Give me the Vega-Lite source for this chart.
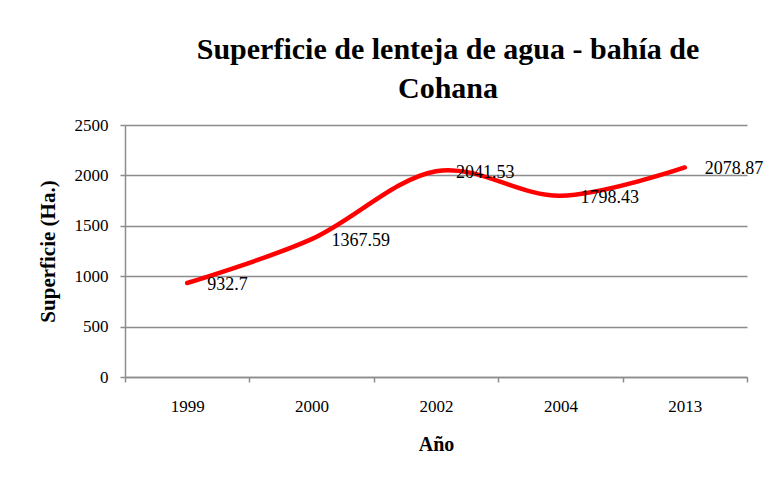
{
  "$schema": "https://vega.github.io/schema/vega-lite/v6.json",
  "width": 622,
  "height": 252,
  "autosize": {"type": "none"},
  "padding": {"left": 125, "top": 125, "right": 23, "bottom": 101},
  "background": "white",
  "title": {
    "text": ["Superficie de lenteja de agua - bahía de", "Cohana"],
    "font": "Liberation Serif",
    "fontSize": 30,
    "fontWeight": "bold",
    "lineHeight": 39,
    "anchor": "middle",
    "dx": 12,
    "offset": 12,
    "color": "black"
  },
  "data": {
    "values": [
      {"anio": "1999", "sup": 932.7},
      {"anio": "2000", "sup": 1367.59},
      {"anio": "2002", "sup": 2041.53},
      {"anio": "2004", "sup": 1798.43},
      {"anio": "2013", "sup": 2078.87}
    ]
  },
  "encoding": {
    "x": {
      "field": "anio",
      "type": "ordinal",
      "sort": null,
      "scale": {"type": "band", "paddingInner": 0, "paddingOuter": 0},
      "axis": {
        "title": "Año",
        "labelAngle": 0,
        "tickBand": "extent",
        "tickSize": 5,
        "labelPadding": 16,
        "titlePadding": 20,
        "grid": false
      }
    },
    "y": {
      "field": "sup",
      "type": "quantitative",
      "scale": {"domain": [0, 2500], "nice": false},
      "axis": {
        "title": "Superficie (Ha.)",
        "values": [0, 500, 1000, 1500, 2000, 2500],
        "format": "d",
        "tickSize": 5,
        "labelPadding": 12,
        "titlePadding": 16,
        "titleFontSize": 21,
        "grid": true
      }
    }
  },
  "layer": [
    {
      "mark": {"type": "line", "interpolate": "cardinal", "color": "#ff0000", "strokeWidth": 4.5, "strokeCap": "round"}
    },
    {
      "mark": {"type": "text", "align": "left", "baseline": "middle", "dx": 20, "dy": 2, "font": "Liberation Serif", "fontSize": 18, "color": "black"},
      "encoding": {
        "text": {"field": "sup", "type": "quantitative", "format": ".6~r"}
      }
    }
  ],
  "config": {
    "view": {"stroke": null},
    "axis": {
      "domainColor": "#8c8c8c",
      "domainWidth": 1.5,
      "tickColor": "#8c8c8c",
      "tickWidth": 1.5,
      "gridColor": "#8c8c8c",
      "gridWidth": 1.5,
      "labelFont": "Liberation Serif",
      "labelFontSize": 17,
      "labelColor": "black",
      "titleFont": "Liberation Serif",
      "titleFontSize": 20,
      "titleFontWeight": "bold",
      "titleColor": "black"
    }
  }
}
